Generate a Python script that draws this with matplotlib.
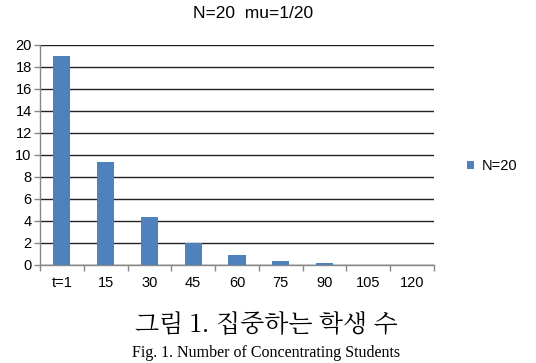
import matplotlib.pyplot as plt
import numpy as np

# values
categories = ['t=1', '15', '30', '45', '60', '75', '90', '105', '120']
concentrating = [19.0, 9.4, 4.4, 2.0, 0.9, 0.4, 0.2, 0.0, 0.0]
series_name = 'N=20'
title = 'N=20  mu=1/20'
caption_ko = '그림 1. 집중하는 학생 수'
caption_en = 'Fig. 1. Number of Concentrating Students'

bar_color = '#4f81bd'
plt.rcParams['font.family'] = ['Liberation Sans', 'DejaVu Sans']

fig = plt.figure(figsize=(5.36, 3.63), dpi=100)
W, H = 536, 363
# axes box in pixels: left 40, right 434, top 45, bottom 265
ax = fig.add_axes([40 / W, 1 - 265 / H, (434 - 40) / W, (265 - 45) / H])

x = np.arange(len(categories))
ax.bar(x, concentrating, width=0.39, color=bar_color, label=series_name, zorder=3)

ax.set_xlim(-0.5, len(categories) - 0.5)
ax.set_ylim(0, 20)
ax.set_yticks(range(0, 21, 2))
ax.tick_params(axis='y', labelsize=10.5, length=4, width=1, color='#888888', pad=2)
ax.yaxis.grid(True, color='#222222', linewidth=1.0, zorder=1)

# category labels centred, tick marks at category boundaries
ax.set_xticks(x)
ax.set_xticklabels(categories, fontsize=10.5)
ax.tick_params(axis='x', length=0, pad=8)
ax.set_xticks(np.arange(-0.5, len(categories)), minor=True)
ax.tick_params(axis='x', which='minor', length=4, width=1, color='#888888')

for s in ['top', 'right']:
    ax.spines[s].set_visible(False)
for s in ['left', 'bottom']:
    ax.spines[s].set_color('#888888')
    ax.spines[s].set_linewidth(1.0)

fig.text(253 / W, 1 - 13 / H, title, ha='center', va='center', fontsize=12.5)

leg = ax.legend(loc='center left', bbox_to_anchor=(1.05, 0.45), frameon=False,
                fontsize=10.5, handlelength=0.5, handleheight=0.5, handletextpad=0.5)

fig.text(266 / W, 1 - 325 / H, caption_ko, ha='center', va='center', fontsize=18,
         family=['Noto Serif CJK KR', 'Noto Sans CJK KR', 'DejaVu Sans'])
fig.text(266 / W, 1 - 345 / H, caption_en, ha='center', va='top', fontsize=11.5,
         family=['Liberation Serif', 'DejaVu Serif'])

fig.savefig('out.png', dpi=100)
